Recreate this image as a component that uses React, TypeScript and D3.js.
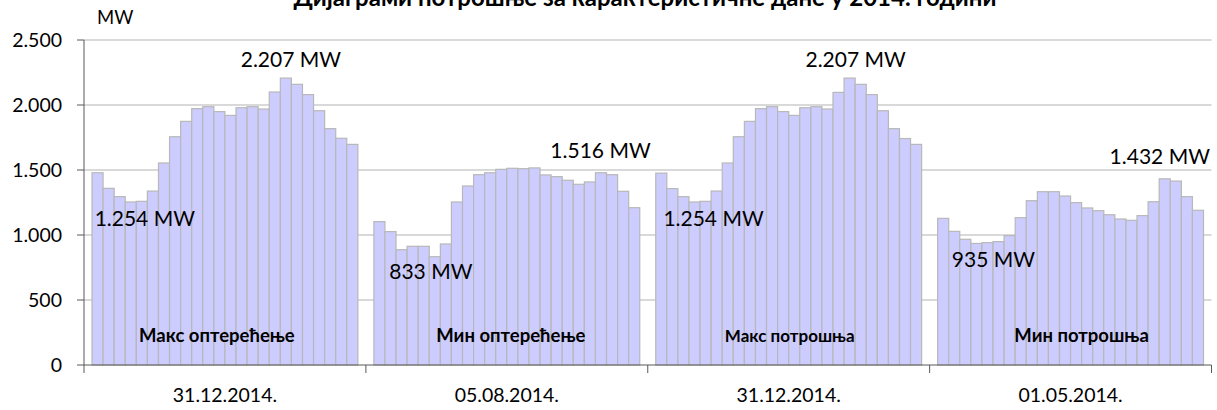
import { scaleBand, scaleLinear, range } from "d3";

const width = 1217;
const height = 410;
const margin = { top: 40, right: 5, bottom: 45, left: 84 };

const title = "Дијаграми потрошње за карактеристичне дане у 2014. години";
const unit = "MW";

const dates = ["31.12.2014.", "05.08.2014.", "31.12.2014.", "01.05.2014."];
const dayTypes = ["Макс оптерећење", "Мин оптерећење", "Макс потрошња", "Мин потрошња"];
const yTicks = [0, 500, 1000, 1500, 2000, 2500];
const yTickLabels = ["0", "500", "1.000", "1.500", "2.000", "2.500"];

// hourly load, MW
const maxLoad = [
  1479, 1359, 1295, 1254, 1259, 1338, 1554, 1756, 1874, 1972, 1987, 1949,
  1920, 1979, 1987, 1969, 2100, 2207, 2159, 2080, 1956, 1818, 1744, 1697,
];
const minLoad = [
  1103, 1026, 887, 913, 913, 833, 931, 1254, 1377, 1464, 1479, 1505,
  1513, 1510, 1516, 1462, 1449, 1421, 1390, 1408, 1479, 1464, 1336, 1210,
];
const maxCons = [
  1476, 1357, 1295, 1254, 1259, 1338, 1554, 1756, 1874, 1972, 1987, 1949,
  1920, 1979, 1987, 1969, 2097, 2207, 2159, 2080, 1956, 1818, 1742, 1697,
];
const minCons = [
  1128, 1028, 967, 935, 941, 949, 995, 1133, 1264, 1333, 1333, 1300,
  1249, 1208, 1187, 1156, 1123, 1113, 1149, 1256, 1432, 1415, 1295, 1190,
];
const series = [maxLoad, minLoad, maxCons, minCons];

// value labels: group, hour, text, offsets
const notes = [
  { g: 0, h: 17, text: "2.207 MW", dx: 5, dy: -11 },
  { g: 0, h: 3, text: "1.254 MW", dx: 14, dy: 24 },
  { g: 1, h: 5, text: "833 MW", dx: -4, dy: 22 },
  { g: 1, h: 14, text: "1.516 MW", dx: 66, dy: -10 },
  { g: 2, h: 17, text: "2.207 MW", dx: 6, dy: -11 },
  { g: 2, h: 3, text: "1.254 MW", dx: 19, dy: 24 },
  { g: 3, h: 3, text: "935 MW", dx: 17, dy: 24 },
  { g: 3, h: 20, text: "1.432 MW", dx: -5, dy: -15 },
];
const dayLabelDx = [-8, 4, 1, 11];
const dayLabelSize = [18.5, 18.5, 17, 18.5];

const font = "Lato, 'Open Sans', sans-serif";

export default function App() {
  const innerW = width - margin.left - margin.right;
  const x = scaleBand<number>()
    .domain(range(dates.length))
    .range([margin.left, margin.left + innerW - 0.5])
    .paddingInner(0)
    .paddingOuter(0);
  const hours = scaleBand<number>()
    .domain(range(24))
    .range([8, x.bandwidth() - 8]);
  const y = scaleLinear().domain([0, 2500]).range([height - margin.bottom, margin.top]);

  const x0 = margin.left;
  const x1 = x(dates.length - 1)! + x.bandwidth();
  const y0 = y(0);

  return (
    <svg
      width={width}
      height={height}
      style={{ position: "absolute", left: 0, top: 0, background: "#fff" }}
      fontFamily={font}
    >
      <text x={645} y={6} textAnchor="middle" fontWeight="bold" fontSize={24}>
        {title}
      </text>
      <text x={97} y={24} fontSize={18.5}>
        {unit}
      </text>

      {yTicks.map((t, i) => (
        <g key={t}>
          {t > 0 && <line x1={x0} x2={x1} y1={y(t)} y2={y(t)} stroke="#d9d9d9" strokeWidth={2} />}
          <line x1={x0 - 7} x2={x0} y1={y(t)} y2={y(t)} stroke="#595959" />
          <text x={62} y={y(t)} dy="0.35em" textAnchor="end" fontSize={19.5}>
            {yTickLabels[i]}
          </text>
        </g>
      ))}

      {series.map((vals, g) => (
        <g key={g} transform={`translate(${x(g)},0)`}>
          {vals.map((v, h) => (
            <rect
              key={h}
              x={hours(h)}
              y={y(v)}
              width={hours.bandwidth()}
              height={y0 - y(v)}
              fill="#ccccff"
              stroke="#b8b8b8"
              strokeWidth={1.2}
            />
          ))}
          <text
            x={x.bandwidth() / 2 + dayLabelDx[g]}
            y={342}
            textAnchor="middle"
            fontWeight="bold"
            fontSize={dayLabelSize[g]}
          >
            {dayTypes[g]}
          </text>
          <text x={x.bandwidth() / 2} y={402} textAnchor="middle" fontSize={19.5}>
            {dates[g]}
          </text>
        </g>
      ))}

      {notes.map((n, i) => (
        <text
          key={i}
          x={x(n.g)! + hours(n.h)! + hours.bandwidth() / 2 + n.dx}
          y={y(series[n.g][n.h]) + n.dy}
          textAnchor="middle"
          fontSize={21}
        >
          {n.text}
        </text>
      ))}

      <line x1={x0} x2={x0} y1={margin.top} y2={y0} stroke="#595959" />
      <line x1={x0} x2={x1} y1={y0} y2={y0} stroke="#595959" />
      {range(dates.length + 1).map((i) => {
        const tx = i < dates.length ? x(i)! : x1;
        return <line key={i} x1={tx} x2={tx} y1={y0} y2={y0 + 8} stroke="#595959" />;
      })}
    </svg>
  );
}
